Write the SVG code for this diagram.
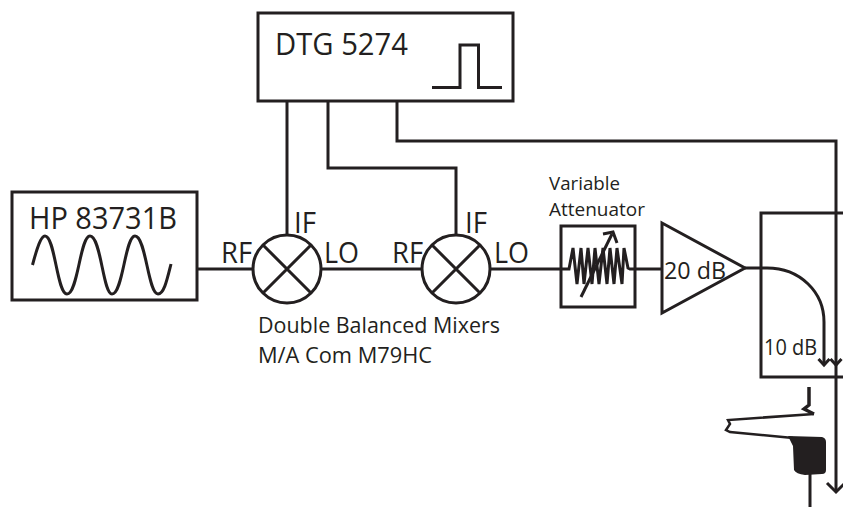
<svg xmlns="http://www.w3.org/2000/svg" width="843" height="507" viewBox="0 0 843 507">
<style>
.s{fill:none;stroke:#231f20;stroke-width:3}
.t{font-family:"Open Sans","Noto Sans","Liberation Sans",sans-serif;fill:#231f20}
.b{font-size:31px}
.m{font-size:22.500px}
.l{font-size:30px}
.v{font-size:19px}
</style>
<rect width="843" height="507" fill="#fff"/>
<g id="connectors" class="s">
<path d="M287 101V236"/>
<path d="M328 101V168H456V236"/>
<path d="M397 101V141H836V491"/>
<path d="M827 483L836 492L845 483"/>
<path d="M830.500 359L836 365L841.500 359"/>
<path d="M197 269H253"/>
<path d="M321 269H422"/>
<path d="M490 269H561"/>
<path d="M635 269H662"/>
<path d="M745 268H767C800 268 824 292 824 322V364"/>
<path d="M818.500 359L824 365L829.500 359"/>
</g>
<g id="hp-source">
<rect class="s" x="12" y="192" width="185" height="108"/>
<path class="s" d="M32.500 265C37 248 41 236 45 236C55 236 57 294 67 294C78 294 80 236 90 236C101 236 103 294 112 294C123 294 125 236 135 236C146 236 148 294 158 294C164 294 167 280 171 264"/>
<text class="t b" x="29" y="229" textLength="148" lengthAdjust="spacingAndGlyphs">HP 83731B</text>
</g>
<g id="dtg">
<rect class="s" x="258" y="13" width="255" height="88"/>
<path class="s" d="M432 87.500H460V45H478.500V87.500H502"/>
<text class="t b" x="275" y="55" textLength="133" lengthAdjust="spacingAndGlyphs">DTG 5274</text>
</g>
<g id="mixer-1">
<circle class="s" cx="287" cy="269" r="34"/>
<path class="s" d="M263 245L311 293M311 245L263 293"/>
<text class="t l" x="221" y="263" textLength="31" lengthAdjust="spacingAndGlyphs">RF</text>
<text class="t l" x="294" y="233" textLength="22" lengthAdjust="spacingAndGlyphs">IF</text>
<text class="t l" x="324" y="263" textLength="35" lengthAdjust="spacingAndGlyphs">LO</text>
</g>
<g id="mixer-2">
<circle class="s" cx="456" cy="269" r="34"/>
<path class="s" d="M432 245L480 293M480 245L432 293"/>
<text class="t l" x="392" y="263" textLength="31" lengthAdjust="spacingAndGlyphs">RF</text>
<text class="t l" x="465" y="233" textLength="22" lengthAdjust="spacingAndGlyphs">IF</text>
<text class="t l" x="494" y="263" textLength="35" lengthAdjust="spacingAndGlyphs">LO</text>
</g>
<g id="mixers-label">
<text class="t m" x="258" y="333" textLength="242" lengthAdjust="spacingAndGlyphs">Double Balanced Mixers</text>
<text class="t m" x="258" y="363" textLength="174" lengthAdjust="spacingAndGlyphs">M/A Com M79HC</text>
</g>
<g id="attenuator">
<rect class="s" x="561" y="226" width="74" height="81"/>
<path class="s" d="M561 269H569L573 248L577 284L581 248L584 284L588 248L592 284L595 248L599 284L603 248L607 284L610 248L614 284L617 248L622 284L624 248L628 268L630 269H635"/>
<path class="s" d="M581 297L612 234"/>
<path class="s" d="M603 234L613 232L617 243"/>
<text class="t v" x="549" y="190" textLength="71" lengthAdjust="spacingAndGlyphs">Variable</text>
<text class="t v" x="549" y="216" textLength="96" lengthAdjust="spacingAndGlyphs">Attenuator</text>
</g>
<g id="amplifier">
<path class="s" d="M662 223L745 268L662 313Z"/>
<text class="t" font-size="24" x="664" y="279" textLength="62" lengthAdjust="spacingAndGlyphs">20 dB</text>
</g>
<g id="coupler">
<path class="s" d="M843 213H761V377H843"/>
<text class="t" font-size="21.500" x="764" y="355" textLength="53" lengthAdjust="spacingAndGlyphs">10 dB</text>
</g>
<g id="probe">
<path fill="none" stroke="#231f20" stroke-width="3.500" d="M809 387V405L804 409L814 414"/>
<path fill="none" stroke="#231f20" stroke-width="2.500" d="M814 414L728 420L730 424L726 430L730 432L793 438"/>
<path fill="#231f20" d="M788 436L822 437Q826 438 826 442V470Q826 474 822 474L805 475Q796 474 794 470L793 446Z"/>
<path fill="none" stroke="#231f20" stroke-width="3" d="M810 474V507"/>
</g>
</svg>
